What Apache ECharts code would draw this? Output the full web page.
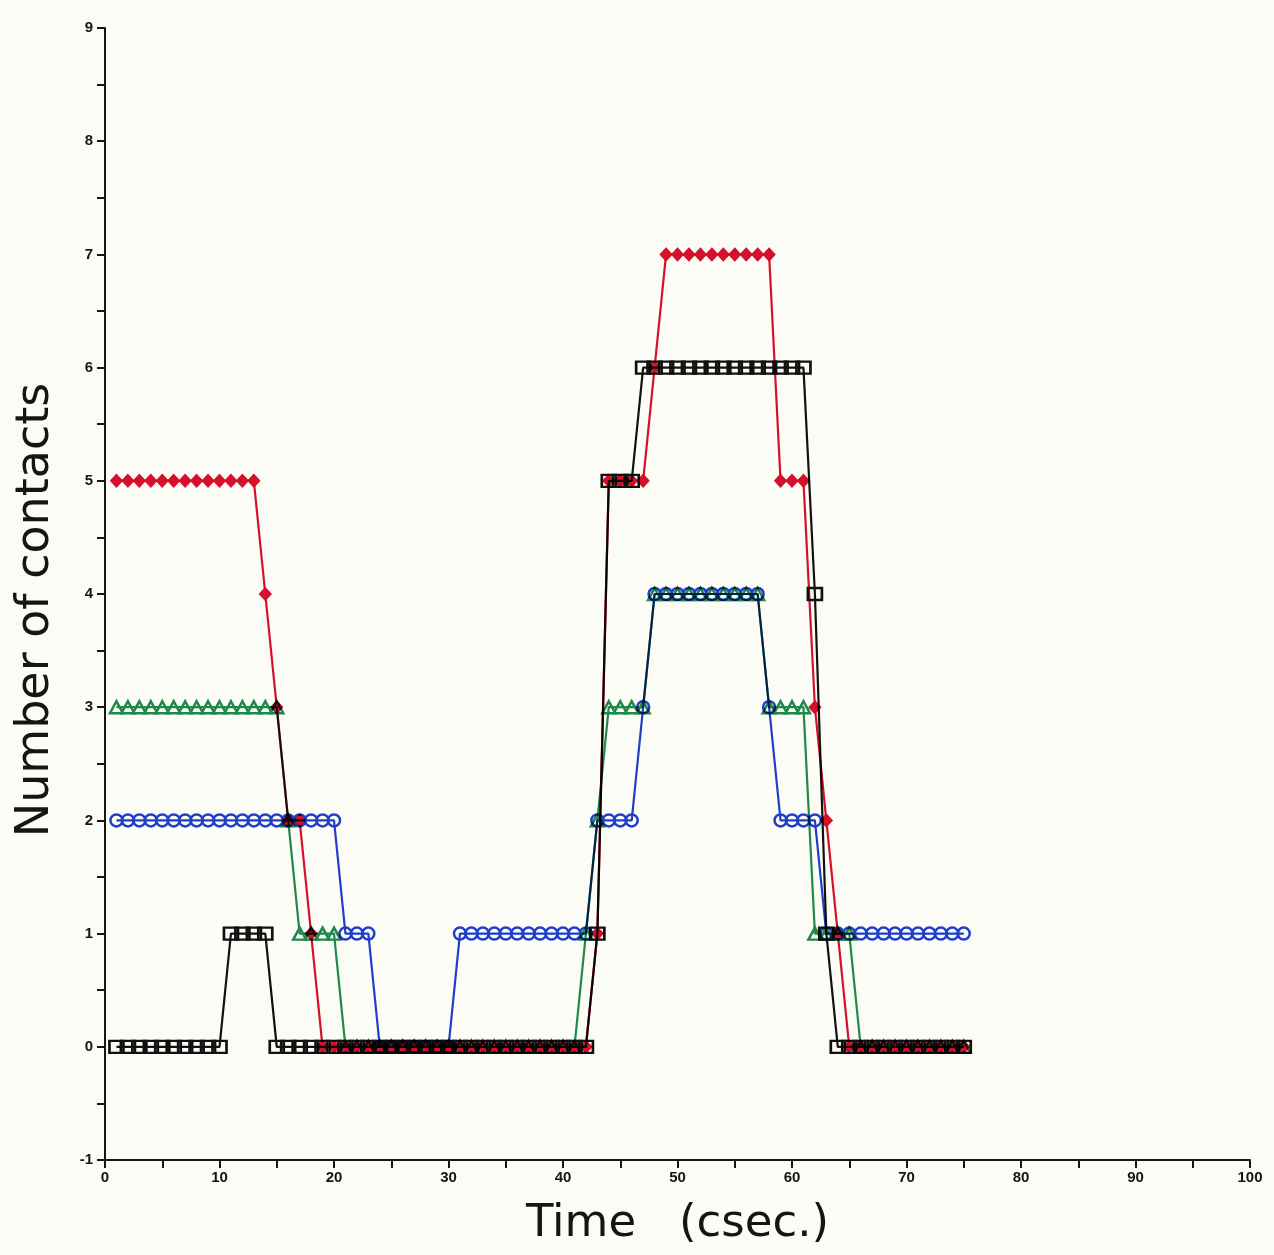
<!DOCTYPE html>
<html>
<head>
<meta charset="utf-8">
<script src="https://cdn.jsdelivr.net/npm/echarts@6/dist/echarts.min.js"></script>
<style>
  html, body { margin: 0; padding: 0; background: #fcfcf6; }
  #chart { width: 1274px; height: 1255px; background: #fcfcf6; }
  #chart canvas { mix-blend-mode: multiply; }
</style>
</head>
<body>
<div id="chart"></div>
<script>
// Time (csec.) 1..75
const times = Array.from({length: 75}, (_, i) => i + 1);

function runs(pairs) { // [value, count] run-length list
  const out = [];
  pairs.forEach(([v, n]) => { for (let k = 0; k < n; k++) out.push(v); });
  return out;
}

const redDiamonds = runs([[5,13],[4,1],[3,1],[2,2],[1,1],[0,24],[1,1],[5,4],[6,1],[7,10],[5,3],[3,1],[2,1],[1,1],[0,11]]);
const greenTriangles = runs([[3,15],[2,1],[1,4],[0,21],[1,1],[2,1],[3,4],[4,10],[3,4],[1,4],[0,10]]);
const blueCircles = runs([[2,20],[1,3],[0,7],[1,12],[2,4],[3,1],[4,10],[3,1],[2,4],[1,13]]);
const blackSquares = runs([[0,10],[1,4],[0,28],[1,1],[5,3],[6,15],[4,1],[1,1],[0,12]]);

const xTicks = [0,10,20,30,40,50,60,70,80,90,100];
const yTicks = [-1,0,1,2,3,4,5,6,7,8,9];

function pts(vals) { return times.map((t, i) => [t, vals[i]]); }

const chart = echarts.init(document.getElementById('chart'), null, {renderer: 'canvas'});
const txt = '#151515';
const axisCommon = {
  axisLine: { show: true, onZero: false, lineStyle: { color: txt, width: 2 } },
  axisTick: { show: true, inside: false, length: 8, lineStyle: { color: txt, width: 2 } },
  minorTick: { show: true, splitNumber: 2, length: 8, lineStyle: { color: txt, width: 2 } },
  splitLine: { show: false },
  axisLabel: { color: txt, fontFamily: 'Liberation Sans', fontWeight: 'bold', fontSize: 15 }
};

function mk(name, vals, color, symbol, size, filled, z) {
  return {
    name, type: 'line', data: pts(vals), zlevel: z,
    symbol, symbolSize: size, showSymbol: true,
    lineStyle: { color, width: 2.2 },
    itemStyle: filled ? { color, borderColor: color, borderWidth: 1 }
                      : { color: 'rgba(0,0,0,0)', borderColor: color, borderWidth: 2.5 },
    emphasis: { disabled: true }
  };
}

chart.setOption({
  animation: false,
  backgroundColor: 'transparent',
  grid: { left: 105, right: 24, top: 28, bottom: 95 },
  xAxis: Object.assign({}, axisCommon, {
    type: 'value', min: 0, max: 100, interval: 10,
    name: 'Time   (csec.)', nameLocation: 'middle', nameGap: 42,
    nameTextStyle: { fontFamily: 'DejaVu Sans', fontSize: 45, color: txt },
    axisLabel: Object.assign({}, axisCommon.axisLabel, { margin: 10, formatter: v => xTicks.includes(v) ? String(v) : '' })
  }),
  yAxis: Object.assign({}, axisCommon, {
    type: 'value', min: -1, max: 9, interval: 1,
    name: 'Number of contacts', nameLocation: 'middle', nameGap: 46,
    nameTextStyle: { fontFamily: 'DejaVu Sans', fontSize: 46, color: txt, padding: [0, 32, 0, 0] },
    axisLabel: Object.assign({}, axisCommon.axisLabel, { margin: 12, formatter: v => yTicks.includes(v) ? String(v) : '' })
  }),
  series: [
    mk('green', greenTriangles, '#1f8a4c', 'triangle', [13, 12], false, 1),
    mk('blue', blueCircles, '#1f3fd0', 'circle', 12, false, 2),
    mk('red', redDiamonds, '#d8102c', 'diamond', [12, 13], true, 3),
    mk('black', blackSquares, '#111111', 'rect', [14, 12], false, 4)
  ]
});
</script>
</body>
</html>
